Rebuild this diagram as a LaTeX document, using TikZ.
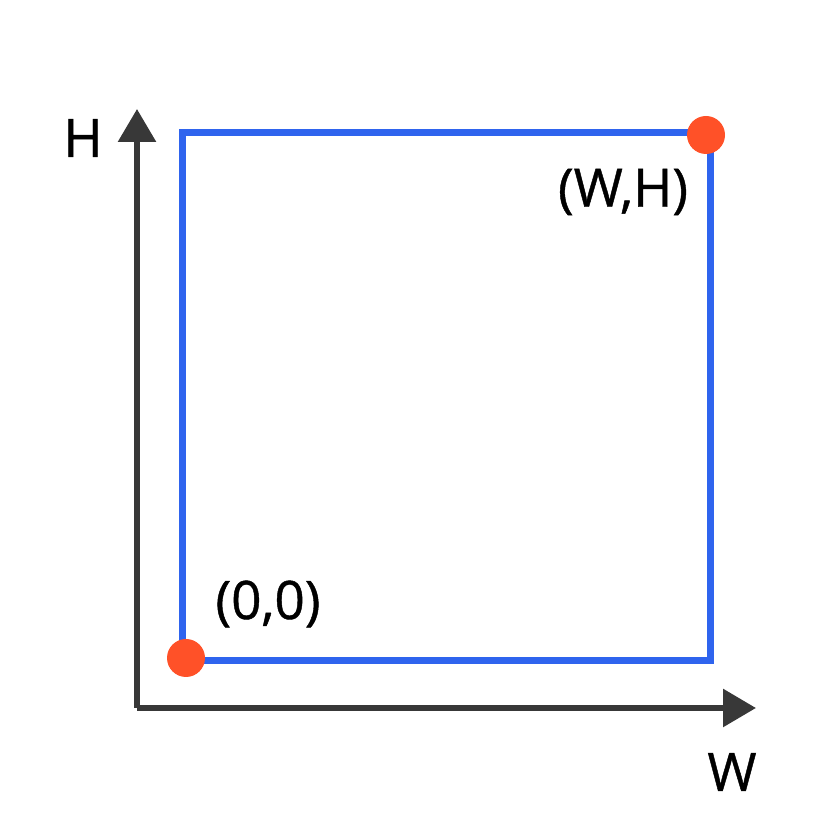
\documentclass[tikz,border=0pt]{standalone}
\usepackage{fontspec}
\newfontfamily\lblfont[FakeBold=0.8]{Open Sans}
\usetikzlibrary{arrows.meta}
\definecolor{axisgray}{HTML}{383838}
\definecolor{boxblue}{HTML}{2F64EE}
\definecolor{dotred}{HTML}{FF5128}
\tikzset{
  axisline/.style={draw=axisgray, line width=6pt, -{Triangle[length=33pt,width=37pt]}},
  boxline/.style={draw=boxblue, line width=7pt},
  dot/.style={circle, fill=dotred, minimum size=38pt, inner sep=0pt},
  lbl/.style={font=\lblfont\fontsize{53}{60}\selectfont, text=black, inner sep=0pt}
}
\begin{document}
\begin{tikzpicture}[x=1pt,y=1pt]
\useasboundingbox (0,0) rectangle (828,827);
\coordinate (o) at (137,119);
\coordinate (ytip) at (137,718);
\coordinate (xtip) at (756,119);
\draw[axisline] (o) -- (ytip);
\draw[axisline] (o) -- (xtip);
\draw[boxline] (182,166) rectangle (710,694);
\node[dot] (p0) at (186,169) {};
\node[dot] (p1) at (706,692) {};
\node[lbl] (lh) at (83,689) {H};
\node[lbl] (lw) at (732,55) {W};
\node[lbl] (lwh) at (623,635) {(W,H)};
\node[lbl] (l00) at (268,223) {(0,0)};
\end{tikzpicture}
\end{document}
